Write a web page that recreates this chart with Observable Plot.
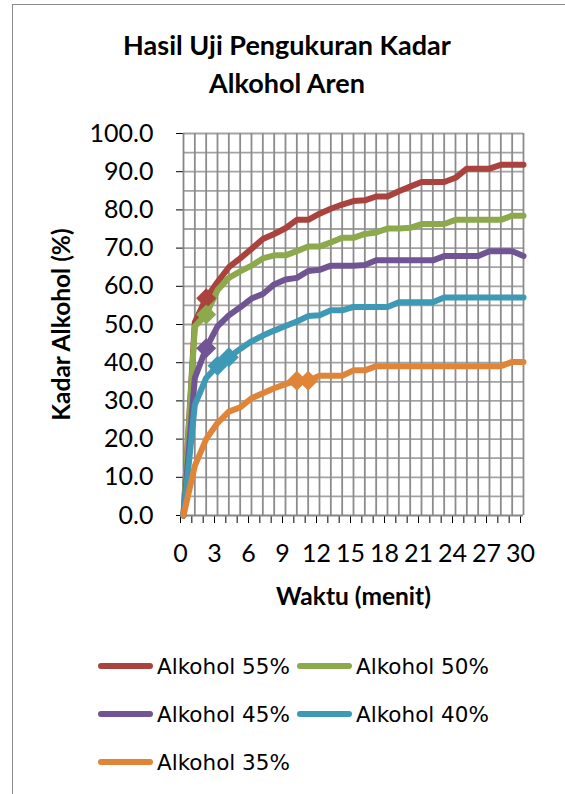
<!DOCTYPE html>
<html><head><meta charset="utf-8">
<script src="https://cdn.jsdelivr.net/npm/d3@7"></script>
<script src="https://cdn.jsdelivr.net/npm/@observablehq/plot@0.6"></script>
<style>
body{margin:0;background:#fff;width:565px;height:794px;overflow:hidden;position:relative;font-family:Lato,sans-serif}
#frame{position:absolute;left:12px;top:4px;width:600px;height:820px;border:1.5px solid #8a8a8a;box-sizing:border-box}
#title{position:absolute;left:0;top:26px;width:574px;text-align:center;font:bold 27px/38px Lato,sans-serif;color:#000}
#chart{position:absolute;left:0;top:110px}
#legend{position:absolute;left:98px;top:642px;width:420px;display:grid;grid-template-columns:199px 199px;grid-auto-rows:48px;font:21.5px "DejaVu Sans",sans-serif;color:#000}
.item{display:flex;align-items:center;white-space:nowrap}
.sw{width:55px;height:5.5px;border-radius:3px;margin-right:4px;flex:none}
g[aria-label="y-axis label"] text, g[aria-label="x-axis label"] text{font-weight:bold;font-size:24.5px}
</style></head><body>
<div id="frame"></div>
<div id="title">Hasil Uji Pengukuran Kadar<br>Alkohol Aren</div>
<div id="chart"></div>
<div id="legend"></div>
<script>
const waktu = [0,1,2,3,4,5,6,7,8,9,10,11,12,13,14,15,16,17,18,19,20,21,22,23,24,25,26,27,28,29,30];
const xLabels = [0,3,6,9,12,15,18,21,24,27,30];
const yTicks = [0,10,20,30,40,50,60,70,80,90,100];
const yGrid = [5,10,15,20,25,30,35,40,45,50,55,60,65,70,75,80,85,90,95,100];

const alk55 = [0,50.6,56.9,61.1,65.0,67.3,69.8,72.4,73.7,75.2,77.4,77.4,79.0,80.3,81.4,82.3,82.5,83.5,83.5,84.9,86.1,87.3,87.3,87.3,88.4,90.8,90.8,90.8,91.8,91.8,91.8];
const alk50 = [0,49.5,52.6,59.0,62.2,63.9,65.4,67.3,68.1,68.1,69.2,70.4,70.4,71.5,72.7,72.7,73.7,74.1,75.1,75.1,75.3,76.3,76.3,76.3,77.4,77.4,77.4,77.4,77.4,78.5,78.5];
const alk45 = [0,36.0,43.8,49.5,52.4,54.5,56.8,58.0,60.5,61.8,62.2,64.0,64.3,65.4,65.4,65.4,65.6,66.8,66.8,66.8,66.8,66.8,66.8,67.9,67.9,67.9,67.9,69.2,69.2,69.2,67.9];
const alk40 = [0,29.0,36.0,39.2,41.4,43.6,45.6,47.1,48.4,49.6,50.8,52.2,52.4,53.7,53.7,54.6,54.6,54.6,54.6,55.8,55.8,55.8,55.8,57.1,57.1,57.1,57.1,57.1,57.1,57.1,57.1];
const alk35 = [0,13.0,20.0,24.2,27.2,28.3,30.7,32.0,33.3,34.4,35.3,35.3,36.6,36.6,36.6,38.0,38.0,39.1,39.1,39.1,39.1,39.1,39.1,39.1,39.1,39.1,39.1,39.1,39.1,40.2,40.2];

const seriesNames = ["Alkohol 55%","Alkohol 50%","Alkohol 45%","Alkohol 40%","Alkohol 35%"];
const seriesColors = ["#AA423E","#8CAA4B","#705494","#3D99B5","#E08538"];
const markerIdx = [[2],[2],[2],[3,4],[10,11]];

const series = [alk55, alk50, alk45, alk40, alk35];
const table = series.flatMap((vals, i) => waktu.map((w, j) => ({waktu: w, kadar: vals[j], seri: seriesNames[i]})));
const markers = markerIdx.flatMap((idx, i) => idx.map(j => ({waktu: waktu[j], kadar: series[i][j], seri: seriesNames[i]})));

const chart = Plot.plot({
  width: 565, height: 510,
  marginLeft: 183, marginRight: 42, marginTop: 23, marginBottom: 105,
  x: {domain: [0, 30]},
  y: {domain: [0, 100]},
  color: {domain: seriesNames, range: seriesColors},
  style: {fontFamily: "Lato, sans-serif", fontSize: "25px", color: "#000", background: "transparent", overflow: "visible"},
  marks: [
    Plot.ruleY(yGrid, {stroke: "#a3a3a3", strokeWidth: 1.8}),
    Plot.ruleX(waktu.slice(1), {stroke: "#8c8c8c", strokeWidth: 1.8}),
    Plot.axisY({ticks: yTicks, tickFormat: d => d.toFixed(1), tickSize: 7, tickPadding: 23, label: "Kadar Alkohol (%)", labelAnchor: "center", labelArrow: "none", labelOffset: 131}),
    Plot.axisX({ticks: waktu, tickFormat: d => xLabels.includes(d) ? String(d) : "", tickSize: 8, tickPadding: 21, dx: -3, label: "Waktu (menit)", labelAnchor: "center", labelArrow: "none", labelOffset: 89}),
    Plot.ruleX([0], {stroke: "#868686", strokeWidth: 1.8}),
    Plot.ruleY([0], {stroke: "#868686", strokeWidth: 1.8}),
    Plot.line(table, {x: "waktu", y: "kadar", z: "seri", stroke: "seri", strokeWidth: 6, strokeLinejoin: "round", strokeLinecap: "round"}),
    Plot.dot(markers, {x: "waktu", y: "kadar", fill: "seri", symbol: "diamond2", r: 9})
  ]
});
document.getElementById("chart").appendChild(chart);

const legend = document.getElementById("legend");
seriesNames.forEach((name, i) => {
  const it = document.createElement("div");
  it.className = "item";
  it.innerHTML = `<span class="sw" style="background:${seriesColors[i]}"></span><span>${name}</span>`;
  legend.appendChild(it);
});
</script>
</body></html>
